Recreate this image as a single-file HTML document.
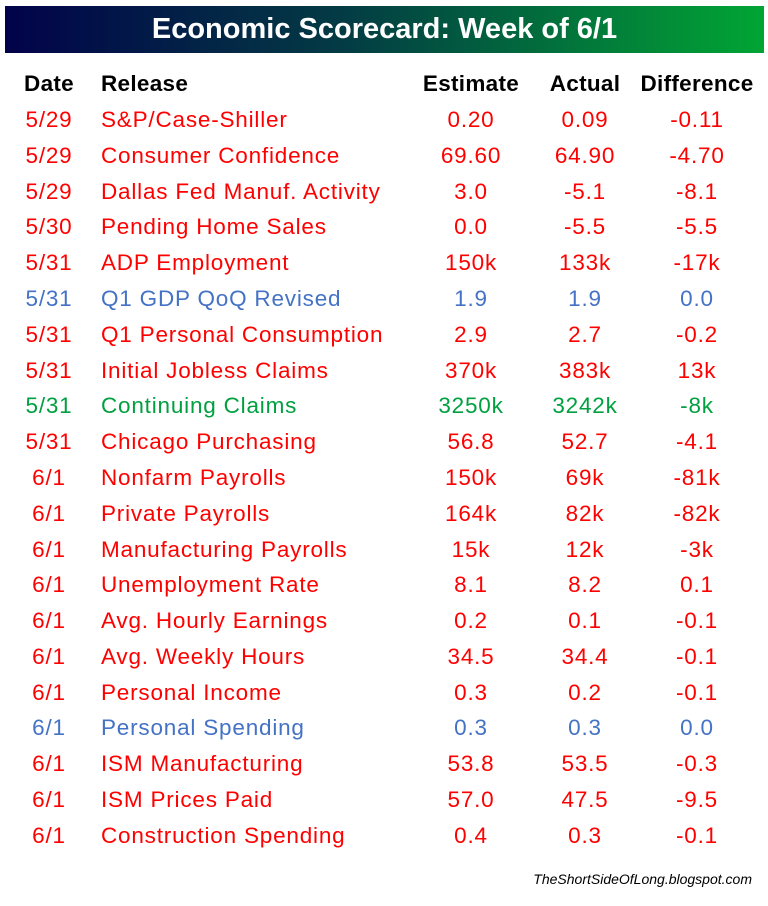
<!DOCTYPE html>
<html><head><style>
body{margin:0;width:768px;height:906px;background:#fff;font-family:"Liberation Sans",sans-serif;position:relative;overflow:hidden}
.hd{position:absolute;left:5px;top:6px;width:759px;height:47px;background:linear-gradient(90deg,#02024a,#033c44 45%,#01a534 100%);color:#fff;font-weight:bold;font-size:29px;text-align:center;line-height:47px;letter-spacing:0px}
.r{position:absolute;left:0;width:768px;height:36px;line-height:36px;font-size:22.5px;letter-spacing:0.8px}
.r span{position:absolute;white-space:nowrap}
.d{left:49px;transform:translateX(-50%)}
.n{left:101px}
.e{left:471px;transform:translateX(-50%)}
.a{left:585px;transform:translateX(-50%)}
.f{left:697px;transform:translateX(-50%)}
.R{color:#ff0000}.B{color:#4472c4}.G{color:#00a040}
.H{font-weight:bold;color:#000;letter-spacing:0.3px}
.ft{position:absolute;right:16px;top:871px;font-size:14px;font-style:italic;color:#000}
</style></head><body>
<div class="hd">Economic Scorecard: Week of 6/1</div>
<div class="r H" style="top:66px"><span class="d">Date</span><span class="n">Release</span><span class="e">Estimate</span><span class="a">Actual</span><span class="f">Difference</span></div>
<div class="r R" style="top:102px"><span class="d">5/29</span><span class="n">S&amp;P/Case-Shiller</span><span class="e">0.20</span><span class="a">0.09</span><span class="f">-0.11</span></div>
<div class="r R" style="top:138px"><span class="d">5/29</span><span class="n">Consumer Confidence</span><span class="e">69.60</span><span class="a">64.90</span><span class="f">-4.70</span></div>
<div class="r R" style="top:174px"><span class="d">5/29</span><span class="n">Dallas Fed Manuf. Activity</span><span class="e">3.0</span><span class="a">-5.1</span><span class="f">-8.1</span></div>
<div class="r R" style="top:209px"><span class="d">5/30</span><span class="n">Pending Home Sales</span><span class="e">0.0</span><span class="a">-5.5</span><span class="f">-5.5</span></div>
<div class="r R" style="top:245px"><span class="d">5/31</span><span class="n">ADP Employment</span><span class="e">150k</span><span class="a">133k</span><span class="f">-17k</span></div>
<div class="r B" style="top:281px"><span class="d">5/31</span><span class="n">Q1 GDP QoQ Revised</span><span class="e">1.9</span><span class="a">1.9</span><span class="f">0.0</span></div>
<div class="r R" style="top:317px"><span class="d">5/31</span><span class="n">Q1 Personal Consumption</span><span class="e">2.9</span><span class="a">2.7</span><span class="f">-0.2</span></div>
<div class="r R" style="top:353px"><span class="d">5/31</span><span class="n">Initial Jobless Claims</span><span class="e">370k</span><span class="a">383k</span><span class="f">13k</span></div>
<div class="r G" style="top:388px"><span class="d">5/31</span><span class="n">Continuing Claims</span><span class="e">3250k</span><span class="a">3242k</span><span class="f">-8k</span></div>
<div class="r R" style="top:424px"><span class="d">5/31</span><span class="n">Chicago Purchasing</span><span class="e">56.8</span><span class="a">52.7</span><span class="f">-4.1</span></div>
<div class="r R" style="top:460px"><span class="d">6/1</span><span class="n">Nonfarm Payrolls</span><span class="e">150k</span><span class="a">69k</span><span class="f">-81k</span></div>
<div class="r R" style="top:496px"><span class="d">6/1</span><span class="n">Private Payrolls</span><span class="e">164k</span><span class="a">82k</span><span class="f">-82k</span></div>
<div class="r R" style="top:532px"><span class="d">6/1</span><span class="n">Manufacturing Payrolls</span><span class="e">15k</span><span class="a">12k</span><span class="f">-3k</span></div>
<div class="r R" style="top:567px"><span class="d">6/1</span><span class="n">Unemployment Rate</span><span class="e">8.1</span><span class="a">8.2</span><span class="f">0.1</span></div>
<div class="r R" style="top:603px"><span class="d">6/1</span><span class="n">Avg. Hourly Earnings</span><span class="e">0.2</span><span class="a">0.1</span><span class="f">-0.1</span></div>
<div class="r R" style="top:639px"><span class="d">6/1</span><span class="n">Avg. Weekly Hours</span><span class="e">34.5</span><span class="a">34.4</span><span class="f">-0.1</span></div>
<div class="r R" style="top:675px"><span class="d">6/1</span><span class="n">Personal Income</span><span class="e">0.3</span><span class="a">0.2</span><span class="f">-0.1</span></div>
<div class="r B" style="top:710px"><span class="d">6/1</span><span class="n">Personal Spending</span><span class="e">0.3</span><span class="a">0.3</span><span class="f">0.0</span></div>
<div class="r R" style="top:746px"><span class="d">6/1</span><span class="n">ISM Manufacturing</span><span class="e">53.8</span><span class="a">53.5</span><span class="f">-0.3</span></div>
<div class="r R" style="top:782px"><span class="d">6/1</span><span class="n">ISM Prices Paid</span><span class="e">57.0</span><span class="a">47.5</span><span class="f">-9.5</span></div>
<div class="r R" style="top:818px"><span class="d">6/1</span><span class="n">Construction Spending</span><span class="e">0.4</span><span class="a">0.3</span><span class="f">-0.1</span></div>
<div class="ft">TheShortSideOfLong.blogspot.com</div>
</body></html>
